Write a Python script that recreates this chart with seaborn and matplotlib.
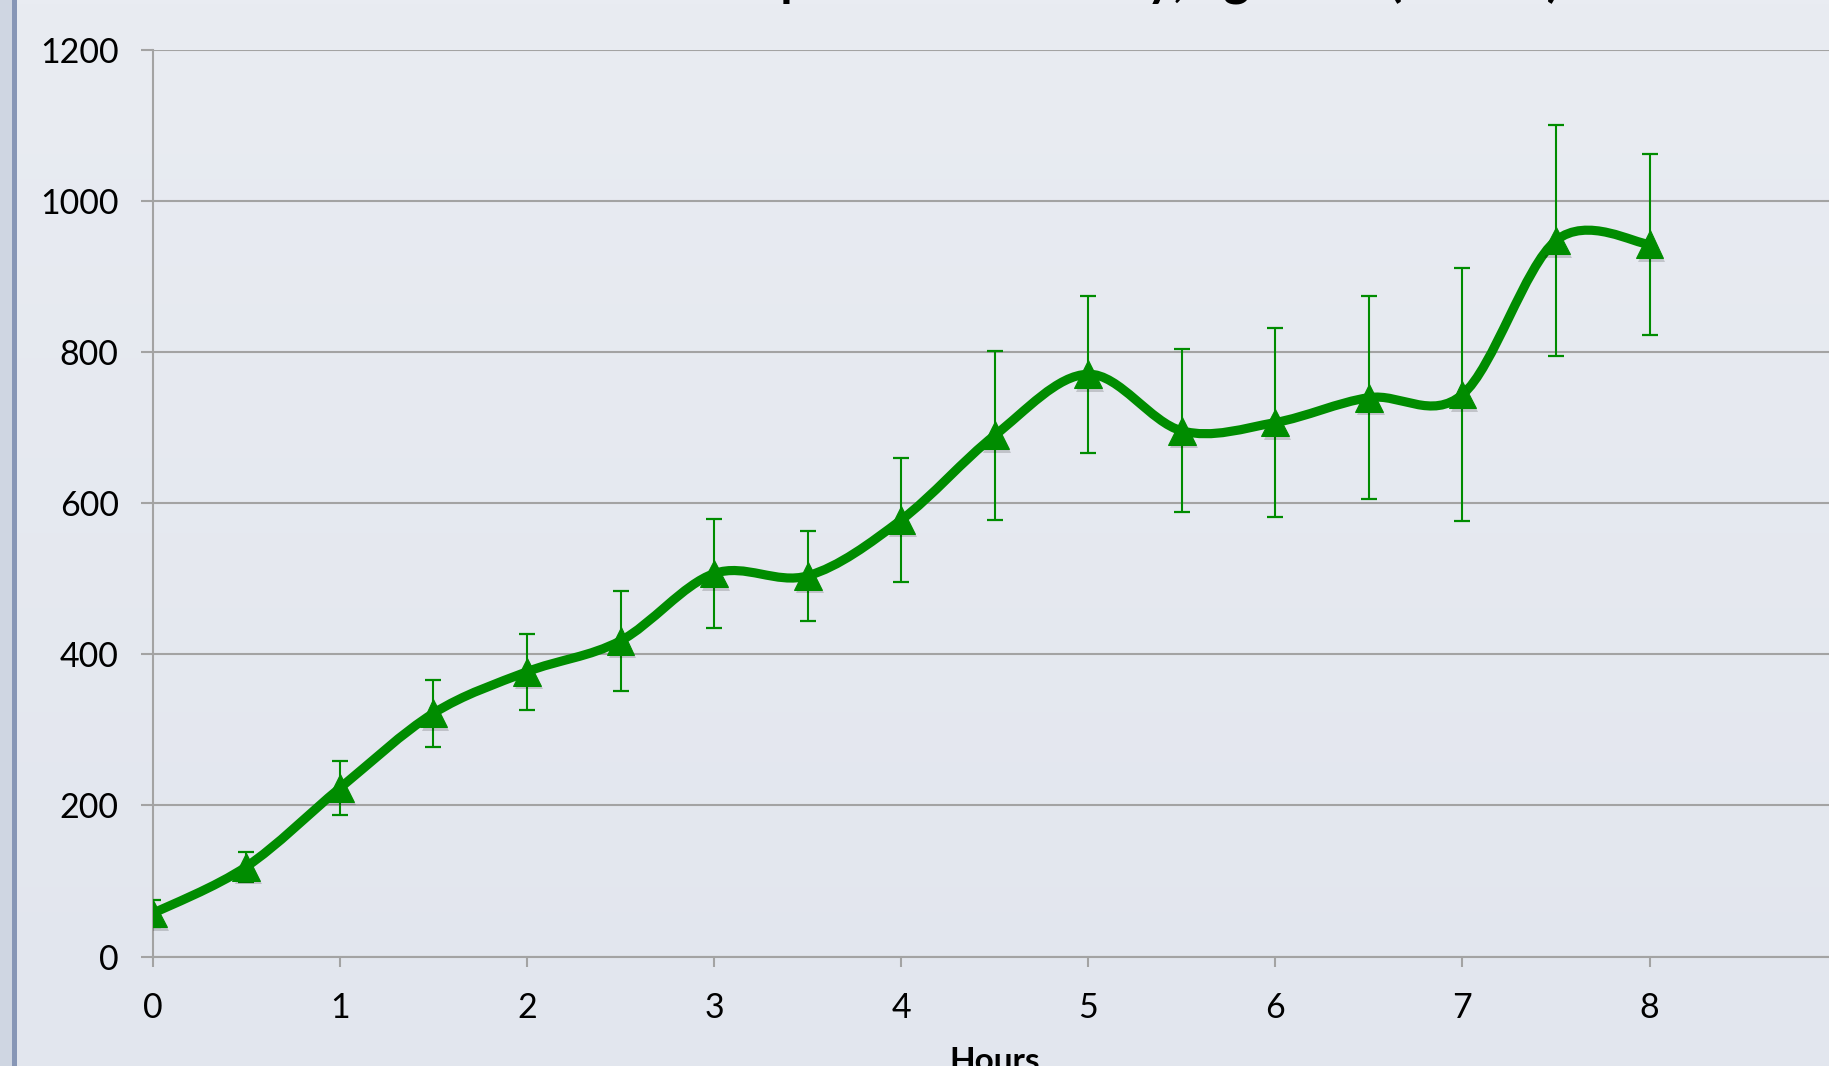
import numpy as np
import pandas as pd
import matplotlib
matplotlib.use("Agg")
import matplotlib.pyplot as plt
import matplotlib.patheffects as pe
from matplotlib.path import Path
from matplotlib.patches import PathPatch, Rectangle
from matplotlib.colors import to_rgb
import seaborn as sns

# ---- data -------------------------------------------------------------
hours = [0, 0.5, 1, 1.5, 2, 2.5, 3, 3.5, 4, 4.5, 5, 5.5, 6, 6.5, 7, 7.5, 8]
mean_values = [57, 119, 223, 322, 377, 418, 507, 504, 578, 690, 771, 696,
               707, 740, 744, 948, 943]
sd_values = [18, 20, 36, 44, 50, 66, 72, 60, 82, 112, 104, 108, 125, 134,
             168, 153, 120]
y_ticks = [0, 200, 400, 600, 800, 1000, 1200]
x_ticks = [0, 1, 2, 3, 4, 5, 6, 7, 8]
title_text = "Cumulative Uptake in the Body, kg/hour (\u00b1 SEM)"
x_label = "Hours"

df = pd.DataFrame({"Hours": hours, "Mean": mean_values, "SD": sd_values})

GREEN = "#008C00"
GRID = "#A3A3A3"

sns.set_theme(style="white")
plt.rcParams["font.family"] = ["Lato", "DejaVu Sans"]

W, H, DPI = 1829, 1066, 100
fig = plt.figure(figsize=(W / DPI, H / DPI), dpi=DPI)

# soft vertical background gradient
bg = fig.add_axes([0, 0, 1, 1], zorder=-10)
top_c = np.array(to_rgb("#E9ECF2"))
bot_c = np.array(to_rgb("#E2E6EE"))
t = np.linspace(0, 1, 256)[:, None, None]
grad = top_c * (1 - t) + bot_c * t
bg.imshow(np.repeat(grad, 2, axis=1), aspect="auto", extent=[0, 1, 0, 1],
          origin="upper")
bg.add_patch(Rectangle((0, 0), 12 / W, 1, transform=bg.transAxes,
                       color="#CFD6E2", lw=0))
bg.add_patch(Rectangle((12 / W, 0), 5 / W, 1, transform=bg.transAxes,
                       color="#8796B6", lw=0))
bg.set_xlim(0, 1)
bg.set_ylim(0, 1)
bg.axis("off")

# main plotting area (extends slightly past the right edge)
x_left, x_right = 152.8, 1836.6
y_bottom, y_top = 956.5, 50.2
ax = fig.add_axes([x_left / W, 1 - y_bottom / H,
                   (x_right - x_left) / W, (y_bottom - y_top) / H])
ax.set_facecolor("none")
ax.set_xlim(0, 9)
ax.set_ylim(0, 1200)

# smoothed connecting line (cubic Bezier through every point)
def smooth_path(xs, ys):
    pts = np.column_stack([xs, ys]).astype(float)
    verts = [pts[0]]
    codes = [Path.MOVETO]
    n = len(pts)
    for i in range(n - 1):
        p0 = pts[i - 1] if i > 0 else pts[i]
        p1 = pts[i]
        p2 = pts[i + 1]
        p3 = pts[i + 2] if i + 2 < n else pts[i + 1]
        c1 = p1 + (p2 - p0) / 6.0
        c2 = p2 - (p3 - p1) / 6.0
        verts += [c1, c2, p2]
        codes += [Path.CURVE4] * 3
    return Path(verts, codes)

ax.add_patch(PathPatch(smooth_path(df["Hours"], df["Mean"]), fill=False,
                       edgecolor=GREEN, lw=6.6, capstyle="round",
                       joinstyle="round", zorder=3))

ax.errorbar(df["Hours"], df["Mean"], yerr=df["SD"], fmt="none",
            ecolor=GREEN, elinewidth=1.5, capsize=5.8, capthick=1.6,
            zorder=4)

sns.lineplot(data=df, x="Hours", y="Mean", ax=ax, marker="^",
             linestyle="", markersize=20, color=GREEN,
             markeredgecolor=GREEN, errorbar=None, zorder=5)
for ln in ax.lines[-1:]:
    ln.set_path_effects([pe.SimplePatchShadow(offset=(1.5, -2.5),
                                              shadow_rgbFace="#000000",
                                              alpha=0.16),
                         pe.Normal()])

# axes styling
ax.set_yticks(y_ticks)
ax.set_xticks(x_ticks)
ax.set_yticklabels([str(v) for v in y_ticks])
ax.set_xticklabels([str(v) for v in x_ticks])
ax.yaxis.grid(True, color=GRID, lw=1.5)
ax.xaxis.grid(False)
ax.set_axisbelow(True)
for side in ["top", "right"]:
    ax.spines[side].set_visible(False)
ax.spines["left"].set_color(GRID)
ax.spines["left"].set_linewidth(1.5)
ax.spines["bottom"].set_color(GRID)
ax.spines["bottom"].set_linewidth(1.5)
ax.tick_params(axis="y", direction="out", length=8.6, width=1.5,
               color=GRID, pad=16, labelsize=24.5, labelcolor="black",
               left=True)
ax.tick_params(axis="x", direction="out", length=7.5, width=1.5,
               color=GRID, pad=18, labelsize=24.5, labelcolor="black",
               bottom=True)

ax.set_xlabel(x_label, fontsize=24, fontweight="bold", color="black", va="top")
ax.xaxis.set_label_coords(0.5, -(1047 - y_bottom) / (y_bottom - y_top))
ax.set_ylabel("")

fig.text(1019 / W, 1.0 + 5 / H, title_text, ha="center", va="baseline",
         fontsize=36, fontweight="bold", color="black")

fig.savefig("out.png", dpi=DPI)
